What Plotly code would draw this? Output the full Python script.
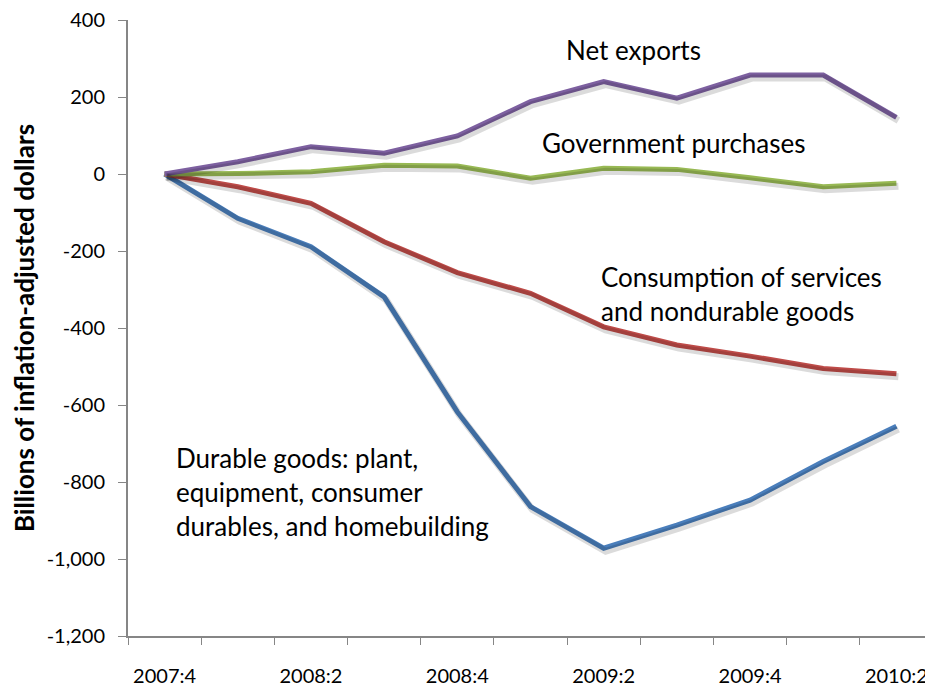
import plotly.graph_objects as go

quarters = ["2007:4", "2008:1", "2008:2", "2008:3", "2008:4", "2009:1",
            "2009:2", "2009:3", "2009:4", "2010:1", "2010:2"]
tick_quarters = ["2007:4", "2008:2", "2008:4", "2009:2", "2009:4", "2010:2"]
y_ticks = [400, 200, 0, -200, -400, -600, -800, -1000, -1200]
y_tick_text = ["400", "200", "0", "-200", "-400", "-600", "-800", "-1,000", "-1,200"]

net_exports = [0, 32, 71, 54, 99, 188, 240, 197, 257, 257, 147]
government = [0, 1, 6, 23, 21, -11, 15, 12, -10, -33, -24]
consumption = [0, -33, -76, -176, -256, -310, -397, -444, -473, -505, -519]
durables = [0, -115, -189, -319, -618, -864, -972, -912, -847, -747, -655]

series = [
    ("Durable goods", durables, "#4a7ebb"),
    ("Consumption", consumption, "#be4b48"),
    ("Government purchases", government, "#98b954"),
    ("Net exports", net_exports, "#7d60a0"),
]

FONT = "Lato, 'Liberation Sans', sans-serif"
# the page body adds an 8px margin, so the figure is sized 8px smaller
W, H = 925, 678
ML, MR, MT, MB = 120, 0, 12, 50
plot_w = W - ML - MR
plot_h = H - MT - MB
YMIN, YMAX = -1200, 400
XMIN, XMAX = -0.5, 10.5

# shadow offset in pixels -> shifted axis ranges
sx, sy = 2.0, 3.0
dx = sx * (XMAX - XMIN) / plot_w
dy = sy * (YMAX - YMIN) / plot_h

fig = go.Figure()

for name, vals, color in series:
    fig.add_trace(go.Scatter(
        x=quarters, y=vals, mode="lines", xaxis="x3", yaxis="y3",
        line=dict(color="rgba(0,0,0,0.14)", width=7),
        hoverinfo="skip", showlegend=False,
    ))

for name, vals, color in series:
    fig.add_trace(go.Scatter(
        x=quarters, y=vals, mode="lines", name=name,
        line=dict(color=color, width=5),
        showlegend=False,
    ))

# invisible trace so the boundary-tick axis is drawn
fig.add_trace(go.Scatter(x=[XMIN, XMAX], y=[0, 0], xaxis="x2", mode="lines",
                         line=dict(width=0), hoverinfo="skip", showlegend=False))

annotations = [
    dict(x="2009:2", y=322, text="Net exports", xanchor="center", xshift=30),
    dict(x="2009:1", y=80, text="Government purchases", xanchor="left", xshift=9),
    dict(x="2009:2", y=-312, text="Consumption of services<br>and nondurable goods",
         xanchor="left", xshift=-5),
    dict(x="2007:4", y=-827, text="Durable goods: plant,<br>equipment, consumer<br>durables, and homebuilding",
         xanchor="left", xshift=9),
]
for a in annotations:
    a.update(showarrow=False, align="left", yanchor="middle",
             font=dict(family=FONT, size=26, color="#000000"))

fig.update_layout(
    width=W, height=H,
    margin=dict(l=ML, r=MR, t=MT, b=MB),
    paper_bgcolor="white", plot_bgcolor="white",
    font=dict(family=FONT, size=17, color="#000000"),
    annotations=annotations,
    xaxis=dict(
        type="category", categoryorder="array", categoryarray=quarters,
        range=[XMIN, XMAX], tickvals=tick_quarters, ticktext=tick_quarters,
        ticks="", showgrid=False, zeroline=False, showline=True,
        linecolor="#868686", linewidth=2, tickfont=dict(size=20),
        ticklabelstandoff=21, automargin=False, ticklabeloverflow="allow",
    ),
    xaxis2=dict(
        overlaying="x", range=[XMIN, XMAX], tick0=XMIN, dtick=1,
        ticks="outside", ticklen=8, tickcolor="#868686", tickwidth=1,
        showticklabels=False, showgrid=False, zeroline=False, showline=False,
        anchor="y", automargin=False,
    ),
    xaxis3=dict(
        overlaying="x", type="category", categoryorder="array", categoryarray=quarters,
        range=[XMIN - dx, XMAX - dx], visible=False, anchor="y3",
    ),
    yaxis=dict(
        range=[YMIN, YMAX], tickvals=y_ticks, ticktext=y_tick_text,
        ticks="outside", ticklen=8, tickcolor="#868686",
        showgrid=False, zeroline=False, showline=True,
        linecolor="#868686", linewidth=2, tickfont=dict(size=20),
        ticklabelstandoff=9, automargin=False, ticklabeloverflow="allow",
        title=dict(text="<b>Billions of inflation-adjusted dollars</b>",
                   font=dict(size=26), standoff=14),
    ),
    yaxis3=dict(
        overlaying="y", range=[YMIN + dy, YMAX + dy], visible=False, anchor="x3",
    ),
)

fig.write_html("out.html")
